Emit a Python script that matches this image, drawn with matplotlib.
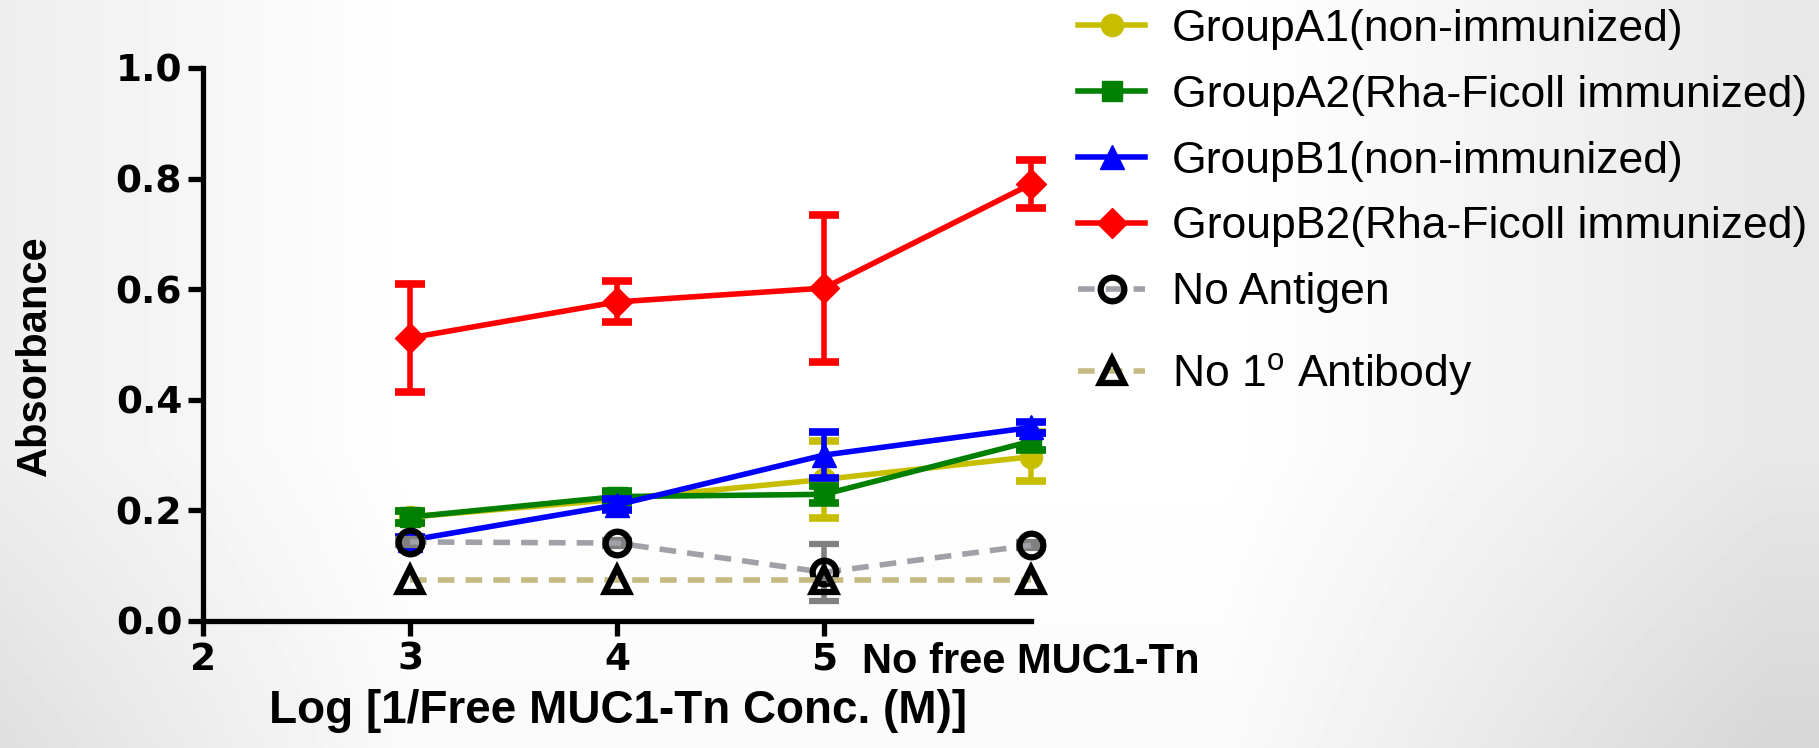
import numpy as np
import matplotlib
matplotlib.use("Agg")
import matplotlib.pyplot as plt
from matplotlib.lines import Line2D

plt.rcParams['font.family'] = ['Liberation Sans', 'DejaVu Sans']
plt.rcParams['mathtext.fontset'] = 'custom'
plt.rcParams['mathtext.rm'] = 'Liberation Sans'

# Dilution points (log of 1/free MUC1-Tn), last one = no free MUC1-Tn
x = [3, 4, 5, 6]
xtick_pos = [2, 3, 4, 5, 6]
xtick_lbl = ['2', '3', '4', '5', 'No free MUC1-Tn']

a1 = [0.188, 0.220, 0.256, 0.297]
a1_err = [0.010, 0.010, 0.069, 0.044]
a2 = [0.188, 0.225, 0.229, 0.325]
a2_err = [0.010, 0.010, 0.015, 0.015]
b1 = [0.146, 0.210, 0.300, 0.350]
b1_err = [0.005, 0.010, 0.041, 0.010]
b2 = [0.512, 0.577, 0.602, 0.790]
b2_err = [0.098, 0.037, 0.133, 0.044]
no_ag = [0.143, 0.141, 0.088, 0.137]
no_ag_err = [0.005, 0.005, 0.052, 0.005]
no_ab = [0.075, 0.075, 0.075, 0.075]

labels = ['GroupA1(non-immunized)',
          'GroupA2(Rha-Ficoll immunized)',
          'GroupB1(non-immunized)',
          'GroupB2(Rha-Ficoll immunized)',
          'No Antigen',
          r'No 1$^{\mathrm{o}}$ Antibody']

fig = plt.figure(figsize=(18.19, 7.48), dpi=100)

# soft grey vignette behind everything, darker toward the sides and bottom
bg = fig.add_axes([0, 0, 1, 1], zorder=-10)
gx, gy = np.meshgrid(np.linspace(-1, 1, 400), np.linspace(-1, 1, 200))
side = np.clip((np.abs(gx + 0.1) - 0.45) / 0.6, 0, 1)
low = np.clip((-gy - 0.2) / 0.8, 0, 1)
shade = 1 - 0.09 * side - 0.05 * low * (0.4 + side)
bg.imshow(shade, cmap='gray', vmin=0, vmax=1, aspect='auto', extent=[0, 1, 0, 1],
          origin='lower')
bg.axis('off')

ax = fig.add_axes([0.1116, 0.1698, 0.4552, 0.7393])
ax.patch.set_alpha(0)

lw = 4.0
dash = (0, (3.0, 2.0))
ekw = dict(elinewidth=lw, capsize=11, capthick=lw + 1.5, clip_on=False)

ax.errorbar(x, a1, yerr=a1_err, color='#C8BE00', marker='o', ms=16, lw=lw,
            zorder=3, **ekw)
ax.errorbar(x, a2, yerr=a2_err, color='#008000', marker='s', ms=15, lw=lw,
            zorder=4, **ekw)
ax.errorbar(x, b1, yerr=b1_err, color='#0000FF', marker='^', ms=17, lw=lw,
            zorder=5, **ekw)
ax.errorbar(x, b2, yerr=b2_err, color='#FF0000', marker='D', ms=15, lw=lw,
            zorder=6, **ekw)
ax.errorbar(x, no_ag, yerr=no_ag_err, color='#A0A0A8', ecolor='#808080',
            ls=dash, marker='o', ms=17, mfc='none', mec='black',
            mew=4.5, lw=lw, zorder=7, **ekw)
ax.plot(x, no_ab, color='#C4BA82', ls=dash, marker='^', ms=17,
        mfc='none', mec='black', mew=4.5, lw=lw, zorder=8, clip_on=False)

ax.set_xlim(2, 6)
ax.set_ylim(0, 1.0)
ax.set_xticks(xtick_pos)
ax.set_xticklabels(xtick_lbl)
ax.set_yticks([0, 0.2, 0.4, 0.6, 0.8, 1.0])
ax.set_yticklabels(['0.0', '0.2', '0.4', '0.6', '0.8', '1.0'])

for s in ['top', 'right']:
    ax.spines[s].set_visible(False)
for s in ['left', 'bottom']:
    ax.spines[s].set_linewidth(3.8)
ax.tick_params(direction='out', length=11, width=3.8, pad=4)
for t in ax.get_xticklabels() + ax.get_yticklabels():
    t.set_fontfamily('DejaVu Sans')
    t.set_fontweight('bold')
    t.set_fontsize(27)
last = ax.get_xticklabels()[-1]
last.set_fontfamily('Liberation Sans')
last.set_fontsize(30)
ax.xaxis.get_major_ticks()[-1].tick1line.set_visible(False)

fig.text(0.019, 0.525, 'Absorbance', rotation=90, ha='center', va='center',
         fontsize=30, fontweight='bold')
fig.text(0.340, 0.050, 'Log [1/Free MUC1-Tn Conc. (M)]', ha='center',
         va='center', fontsize=33, fontweight='bold')

handles = [
    Line2D([], [], color='#C8BE00', marker='o', ms=16, lw=lw),
    Line2D([], [], color='#008000', marker='s', ms=15, lw=lw),
    Line2D([], [], color='#0000FF', marker='^', ms=17, lw=lw),
    Line2D([], [], color='#FF0000', marker='D', ms=15, lw=lw),
    Line2D([], [], color='#A0A0A8', ls=dash, marker='o', ms=17,
           mfc='none', mec='black', mew=4.5, lw=lw),
    Line2D([], [], color='#C4BA82', ls=dash, marker='^', ms=17,
           mfc='none', mec='black', mew=4.5, lw=lw),
]
leg_kw = dict(loc='upper left', frameon=False, fontsize=32, handlelength=1.5,
              handletextpad=0.6, labelspacing=0.56, borderaxespad=0)
fig.legend(handles[:5], labels[:5], bbox_to_anchor=(0.583, 1.012), **leg_kw)
fig.legend(handles[5:], labels[5:], bbox_to_anchor=(0.583, 0.555), **leg_kw)

fig.savefig('out.png', dpi=100)
